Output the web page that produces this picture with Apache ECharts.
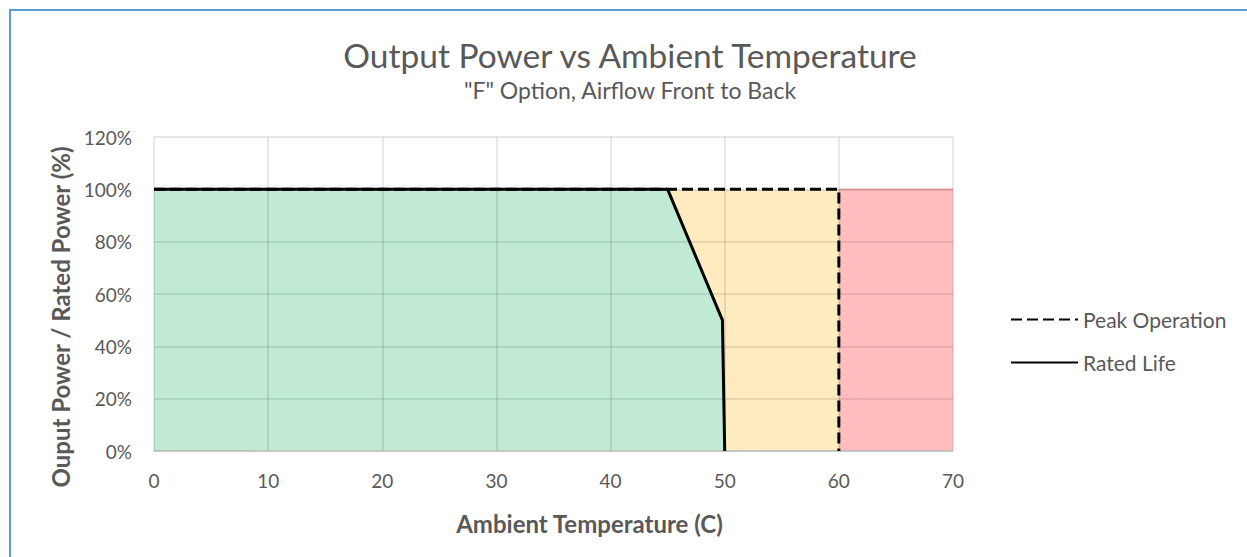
<!DOCTYPE html>
<html>
<head>
<meta charset="utf-8">
<script src="https://cdn.jsdelivr.net/npm/echarts@6/dist/echarts.min.js"></script>
<style>
  html, body { margin: 0; padding: 0; background: #fff; overflow: hidden; }
  #chart { width: 1247px; height: 557px; }
</style>
</head>
<body>
<div id="chart"></div>
<script>
  // temperature (C) / output power (%) pairs
  const peakTemp = [0, 60, 60];
  const peakPower = [100, 100, 0];
  const ratedTemp = [0, 45, 49.8, 50];
  const ratedPower = [100, 100, 50, 0];
  const overTemp = [60, 70];
  const overPower = [100, 100];

  const legendNames = ["Peak Operation", "Rated Life"];

  const pairs = (xs, ys) => xs.map((x, i) => [x, ys[i]]);

  const font = "Lato, 'Open Sans', sans-serif";
  const textColor = "#595959";
  const gridColor = "rgba(0,0,0,0.12)";

  var myChart = echarts.init(document.getElementById("chart"), null, { renderer: "svg" });
  myChart.setOption({
    animation: false,
    textStyle: { fontFamily: font, color: textColor },
    graphic: [
      {
        type: "rect",
        z: -10,
        shape: { x: 10, y: 10, width: 1400, height: 800 },
        style: { fill: "none", stroke: "#5B9BD5", lineWidth: 2 },
      },
      {
        type: "text",
        x: 630, y: 55,
        style: {
          text: "Output Power vs Ambient Temperature",
          fontFamily: font, fontSize: 33.5, fill: textColor,
          align: "center", verticalAlign: "middle",
        },
      },
      {
        type: "text",
        x: 630, y: 90,
        style: {
          text: '"F" Option, Airflow Front to Back',
          fontFamily: font, fontSize: 23, fill: textColor,
          align: "center", verticalAlign: "middle",
        },
      },
    ],
    legend: {
      data: legendNames,
      orient: "vertical",
      left: 1005,
      top: 303,
      itemWidth: 67,
      itemHeight: 14,
      itemGap: 20,
      itemStyle: { opacity: 0 },
      textStyle: { fontFamily: font, fontSize: 21, color: textColor, lineHeight: 23 },
    },
    grid: { left: 154, right: 294, top: 137, bottom: 106 },
    xAxis: {
      type: "value",
      min: 0,
      max: 70,
      interval: 10,
      z: 3,
      name: "Ambient Temperature (C)",
      nameLocation: "middle",
      nameGap: 60,
      nameTextStyle: {
        fontFamily: font, fontSize: 24, fontWeight: "bold", color: textColor,
        padding: [0, 0, 0, 72],
      },
      axisLine: { show: true, lineStyle: { color: "#BFBFBF", width: 1.5 } },
      axisTick: { show: false },
      axisLabel: { margin: 20, fontSize: 19, color: textColor, fontFamily: font },
      splitLine: { show: true, lineStyle: { color: gridColor, width: 1.5 } },
    },
    yAxis: {
      type: "value",
      min: 0,
      max: 120,
      interval: 20,
      z: 3,
      name: "Ouput Power / Rated Power (%)",
      nameLocation: "middle",
      nameGap: 82,
      nameTextStyle: {
        fontFamily: font, fontSize: 24, fontWeight: "bold", color: textColor,
        padding: [0, 46, 0, 0],
      },
      axisLine: { show: false },
      axisTick: { show: false },
      axisLabel: { margin: 22, fontSize: 19, color: textColor, fontFamily: font, formatter: v => v + "%" },
      splitLine: { show: true, lineStyle: { color: gridColor, width: 1.5 } },
    },
    series: [
      {
        name: "over",
        type: "line",
        z: 1,
        symbol: "none",
        silent: true,
        data: pairs(overTemp, overPower),
        lineStyle: { color: "#E8A3A3", width: 1.5 },
        areaStyle: { color: "#FFBDBD", opacity: 1 },
      },
      {
        name: "peak fill",
        type: "line",
        z: 1,
        symbol: "none",
        silent: true,
        data: pairs(peakTemp, peakPower),
        lineStyle: { width: 0 },
        areaStyle: { color: "#FFEBC0", opacity: 1 },
      },
      {
        name: "rated fill",
        type: "line",
        z: 2,
        symbol: "none",
        silent: true,
        data: pairs(ratedTemp, ratedPower),
        lineStyle: { width: 0 },
        areaStyle: { color: "#C0EAD3", opacity: 1 },
      },
      {
        name: legendNames[0],
        type: "line",
        z: 5,
        symbol: "none",
        data: pairs(peakTemp, peakPower),
        itemStyle: { color: "#000" },
        lineStyle: { color: "#000", width: 3, type: [11, 5] },
      },
      {
        name: legendNames[1],
        type: "line",
        z: 6,
        symbol: "none",
        data: pairs(ratedTemp, ratedPower),
        itemStyle: { color: "#000" },
        lineStyle: { color: "#000", width: 3 },
      },
    ],
  });

  window.addEventListener("resize", () => {
    myChart.resize();
  });
</script>
</body>
</html>
